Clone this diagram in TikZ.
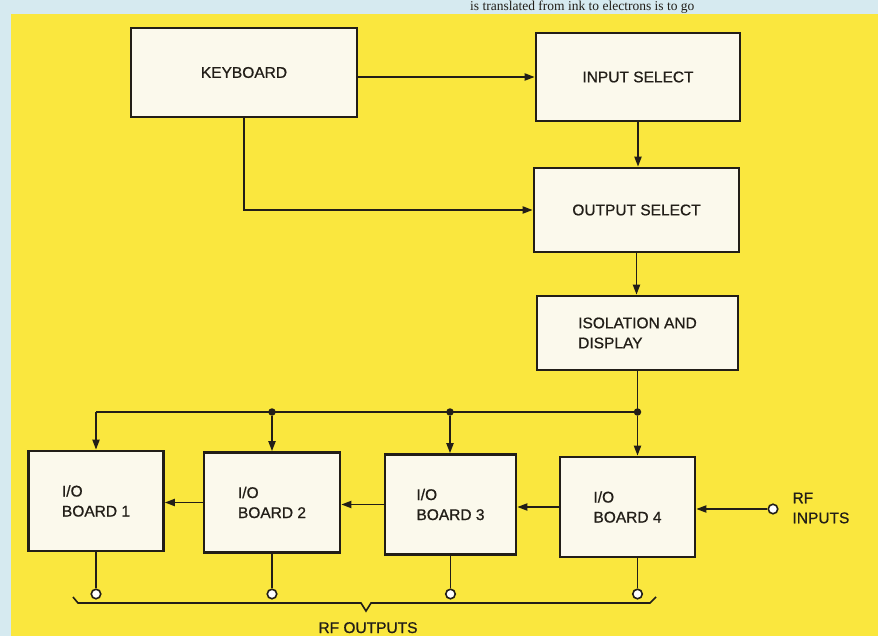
\documentclass[tikz,border=0pt]{standalone}
\usepackage{fontspec}
\setmainfont{Liberation Sans}[FakeBold=0.8]
\newfontfamily\pagefont{Liberation Serif}
\usepackage{xcolor}
\usetikzlibrary{arrows.meta, positioning}
\definecolor{pageyellow}{RGB}{250,231,62}
\definecolor{pageblue}{RGB}{214,234,240}
\definecolor{boxwhite}{RGB}{251,249,236}
\definecolor{inkdark}{RGB}{34,30,24}

\begin{document}
\begin{tikzpicture}[x=1pt, y=-1pt,
  font=\fontsize{15.5}{20}\selectfont,
  box/.style={draw=inkdark, line width=2.6pt, fill=boxwhite, align=center,
              inner sep=0pt, text=inkdark},
  ioboard/.style={box, align=left, minimum width=135pt, minimum height=100pt},
  wire/.style={draw=inkdark, line width=1.9pt},
  arr/.style={wire, -{Triangle[length=10pt, width=7pt]}},
  jdot/.style={circle, fill=inkdark, inner sep=0pt, minimum size=7.5pt},
  port/.style={circle, draw=inkdark, fill=white, line width=1.6pt,
               inner sep=0pt, minimum size=9.5pt}]

  \useasboundingbox (0,0) rectangle (878,636);
  \fill[pageblue] (0,0) rectangle (878,636);
  \fill[pageyellow] (11,14) rectangle (878,636);
  \node[anchor=base west, inner sep=0pt, text=inkdark,
    font=\pagefont\fontsize{13.5}{14}\selectfont] (pagetext) at (470,10.5)
    {is translated from ink to electrons is to go};

  % control chain
  \node[box, minimum width=226pt, minimum height=89pt] (kbd) at (244,72.5) {KEYBOARD};
  \node[box, minimum width=204pt, minimum height=88pt] (insel) at (638,77) {INPUT SELECT};
  \node[box, minimum width=205pt, minimum height=84pt] (outsel) at (636.5,210) {OUTPUT SELECT};
  \node[box, align=left, minimum width=201pt, minimum height=74pt] (iso) at (637.5,333)
    {ISOLATION AND\\DISPLAY};

  \draw[arr] (kbd.east |- insel) -- (insel.west);
  \draw[arr] (kbd.south) |- (outsel.west);
  \draw[arr] (insel.south) -- (insel.south |- outsel.north);
  \draw[arr] (outsel.south) -- (outsel.south |- iso.north);

  % boards
  \node[ioboard] (b1) at (96,501) {I/O\\BOARD 1};
  \node[ioboard, minimum width=136pt] (b2) at (272,502.5) {I/O\\BOARD 2};
  \node[ioboard, minimum width=131pt] (b3) at (450.5,504.5) {I/O\\BOARD 3};
  \node[ioboard] (b4) at (627.5,507) {I/O\\BOARD 4};

  % bus
  \coordinate (busline) at (0,412);
  \node[jdot] (j4) at (iso.south |- busline) {};
  \node[jdot] (j3) at (450,412) {};
  \node[jdot] (j2) at (272,412) {};
  \coordinate (corner) at (b1.north |- busline);
  \draw[wire] (iso.south) -- (j4.center) -- (corner);
  \draw[arr] (corner) -- (b1.north);
  \draw[arr] (j2) -- (b2.north);
  \draw[arr] (j3) -- (j3 |- b3.north);
  \draw[arr] (j4) -- (j4 |- b4.north);

  \draw[arr] (b4.west) -- (b4.west -| b3.east);
  \draw[arr] (b3.west) -- (b3.west -| b2.east);
  \draw[arr] (b2.west) -- (b2.west -| b1.east);

  % rf in
  \node[port] (rfin) at (773,509) {};
  \node[anchor=west, align=left, text=inkdark] (rfinlbl) at (789,508) {RF\\INPUTS};
  \draw[arr] (rfin) -- (rfin -| b4.east);

  % rf out
  \coordinate (outline) at (0,594);
  \node[port] (o1) at (b1.south |- outline) {};
  \node[port] (o2) at (b2.south |- outline) {};
  \node[port] (o3) at (b3.south |- outline) {};
  \node[port] (o4) at (j4 |- outline) {};
  \foreach \n in {1,2,3,4}
    \draw[wire] (o\n |- b\n.south) -- (o\n);

  \draw[wire, line width=1.6pt] (73,597) -- (78,603) -- (361,603) -- (366,611)
    -- (371,603) -- (650,603) -- (656,597);
  \node[anchor=base, text=inkdark] (rfoutlbl) at (368,633) {RF OUTPUTS};
\end{tikzpicture}
\end{document}
